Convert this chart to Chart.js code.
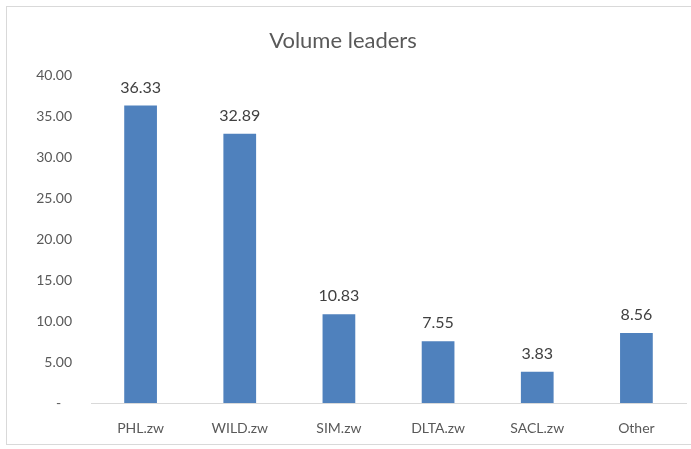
<!DOCTYPE html>
<html>
<head>
<meta charset="utf-8">
<script src="https://cdn.jsdelivr.net/npm/chart.js@4"></script>
<style>
  body { margin: 0; background: #fff; }
  #wrap { width: 691px; height: 449px; position: relative; }
</style>
</head>
<body>
<div id="wrap"><canvas id="volume"></canvas></div>
<script>
var tickers = ["PHL.zw", "WILD.zw", "SIM.zw", "DLTA.zw", "SACL.zw", "Other"];
var volumes = [36.33, 32.89, 10.83, 7.55, 3.83, 8.56];
var yTicks = [0, 5, 10, 15, 20, 25, 30, 35, 40];

// frame around the whole chart
var framePlugin = {
  id: "frame",
  beforeDraw: function (chart) {
    var c = chart.ctx;
    c.save();
    c.strokeStyle = "#d9d9d9";
    c.lineWidth = 1;
    c.strokeRect(6.5, 6.5, 700, 438);
    c.restore();
  }
};

// value labels above the bars
var valuePlugin = {
  id: "values",
  afterDatasetsDraw: function (chart) {
    var c = chart.ctx;
    var meta = chart.getDatasetMeta(0);
    c.save();
    c.font = "16px Lato";
    c.fillStyle = "#404040";
    c.textAlign = "center";
    c.textBaseline = "middle";
    meta.data.forEach(function (bar, i) {
      c.fillText(volumes[i].toFixed(2), bar.x, bar.y - 18);
    });
    c.restore();
  }
};

var ctx = document.getElementById("volume");
var volumeChart = new Chart(ctx, {
  type: "bar",
  data: {
    labels: tickers,
    datasets: [{
      label: "Volume",
      data: volumes,
      backgroundColor: "#4f81bd",
      categoryPercentage: 1,
      barPercentage: 0.33
    }]
  },
  options: {
    responsive: true,
    maintainAspectRatio: false,
    animation: false,
    layout: { padding: { left: 0, right: 5, top: 0, bottom: 0 } },
    plugins: {
      legend: { display: false },
      tooltip: { enabled: false },
      title: {
        display: true,
        text: "Volume leaders",
        color: "#595959",
        font: { family: "Lato", size: 22, weight: "normal" },
        padding: { top: 28, bottom: 21 }
      }
    },
    scales: {
      x: {
        grid: { display: false, drawTicks: false },
        border: { display: true, color: "#d9d9d9" },
        ticks: {
          color: "#595959",
          font: { family: "Lato", size: 14 },
          padding: 17
        },
        afterFit: function (scale) { scale.height = 46; }
      },
      y: {
        min: 0,
        max: 40,
        grid: { display: false, drawTicks: false },
        border: { display: false },
        afterBuildTicks: function (scale) {
          scale.ticks = yTicks.map(function (v) { return { value: v }; });
        },
        ticks: {
          color: "#595959",
          font: { family: "Lato", size: 14 },
          padding: 19,
          callback: function (v) { return v === 0 ? "-   " : v.toFixed(2); }
        },
        afterFit: function (scale) { scale.width = 91; }
      }
    }
  },
  plugins: [framePlugin, valuePlugin]
});
</script>
</body>
</html>
